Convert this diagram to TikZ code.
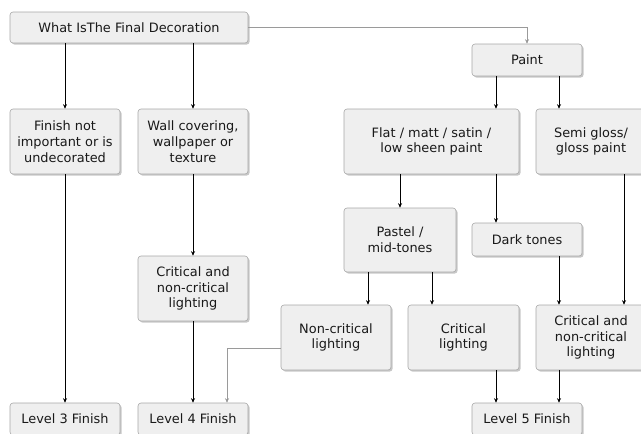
\documentclass[tikz,border=0pt]{standalone}
\usepackage{fontspec}
\setmainfont{DejaVu Sans}
\usetikzlibrary{arrows.meta,shadows,calc}
\definecolor{boxfill}{HTML}{EFEFEF}
\definecolor{boxline}{HTML}{A8A8A8}
\definecolor{gline}{HTML}{9A9A9A}
\begin{document}
\begin{tikzpicture}[x=1pt,y=-1pt,
  box/.style={draw=boxline, line width=0.6pt, fill=boxfill, rounded corners=3pt,
    align=center, inner sep=0pt, text=black!90,
    font=\fontsize{12.9}{15.7}\selectfont,
    drop shadow={shadow xshift=1.6pt, shadow yshift=-1.6pt, fill=black!40, opacity=0.55}},
  arr/.style={draw=black, line width=0.8pt, -{Stealth[length=4.5pt,width=4pt]}},
  garr/.style={draw=gline, line width=0.8pt, -{Stealth[length=4.5pt,width=4pt,fill=black!70]}}]
\useasboundingbox (0,0) rectangle (641,434);
\clip (0,0) rectangle (641,434);

\node[box, minimum width=238pt, minimum height=31pt] (top) at (129,27.5) {What IsThe Final Decoration};
\node[box, minimum width=110pt, minimum height=32pt] (paint) at (527,60) {Paint};
\node[box, minimum width=110pt, minimum height=65pt] (fin) at (65,141.5) {Finish not\\important or is\\undecorated};
\node[box, minimum width=110pt, minimum height=65pt] (wall) at (193,141.5) {Wall covering,\\wallpaper or\\texture};
\node[box, minimum width=175pt, minimum height=65pt] (flat) at (431.5,141.5) {Flat / matt / satin /\\low sheen paint};
\node[box, minimum width=110pt, minimum height=65pt] (semi) at (591,141.5) {Semi gloss/\\gloss paint};
\node[box, minimum width=112pt, minimum height=64pt] (pastel) at (400,240) {Pastel /\\mid-tones};
\node[box, minimum width=110pt, minimum height=33pt] (dark) at (527,239.5) {Dark tones};
\node[box, minimum width=110pt, minimum height=65pt] (crita) at (193,288.5) {Critical and\\non-critical\\lighting};
\node[box, minimum width=110pt, minimum height=65pt] (noncrit) at (336,337.5) {Non-critical\\lighting};
\node[box, minimum width=111pt, minimum height=65pt] (crit) at (463.5,337.5) {Critical\\lighting};
\node[box, minimum width=110pt, minimum height=65pt] (critb) at (591,337.5) {Critical and\\non-critical\\lighting};
\node[box, minimum width=110pt, minimum height=32pt] (lvlc) at (65,419) {Level 3 Finish};
\node[box, minimum width=110pt, minimum height=32pt] (lvld) at (193,419) {Level 4 Finish};
\node[box, minimum width=110pt, minimum height=32pt] (lvle) at (527,419) {Level 5 Finish};

% connectors
\draw[arr] (top.south -| fin.north) -- (fin.north);
\draw[arr] (top.south -| wall.north) -- (wall.north);
\draw[garr] (top.east) -| (paint.north);

\path (paint.south) ++(-31,0) coordinate (pa);
\path (paint.south) ++(32,0) coordinate (pb);
\draw[arr] (pa) -- (pa |- flat.north);
\draw[arr] (pb) -- (pb |- semi.north);

\draw[arr] (flat.south -| pastel.north) -- (pastel.north);
\path (dark.north) ++(-31,0) coordinate (da);
\draw[arr] (da |- flat.south) -- (da);

\path (critb.north) ++(33,0) coordinate (sb);
\draw[arr] (sb |- semi.south) -- (sb);

\draw[arr] (fin.south) -- (lvlc.north);
\draw[arr] (wall.south) -- (crita.north);
\draw[arr] (crita.south) -- (lvld.north);

\path (noncrit.west) ++(0,10.5) coordinate (nw);
\path (lvld.north) ++(34,0) coordinate (l4b);
\draw[garr] (nw) -| (l4b);

\path (noncrit.north) ++(32,0) coordinate (na);
\draw[arr] (na |- pastel.south) -- (na);
\path (crit.north) ++(-31.5,0) coordinate (ca);
\draw[arr] (ca |- pastel.south) -- (ca);

\path (critb.north) ++(-32,0) coordinate (cb);
\draw[arr] (cb |- dark.south) -- (cb);

\path (lvle.north) ++(-31,0) coordinate (la);
\path (lvle.north) ++(32,0) coordinate (lb);
\draw[arr] (la |- crit.south) -- (la);
\draw[arr] (lb |- critb.south) -- (lb);
\end{tikzpicture}
\end{document}
